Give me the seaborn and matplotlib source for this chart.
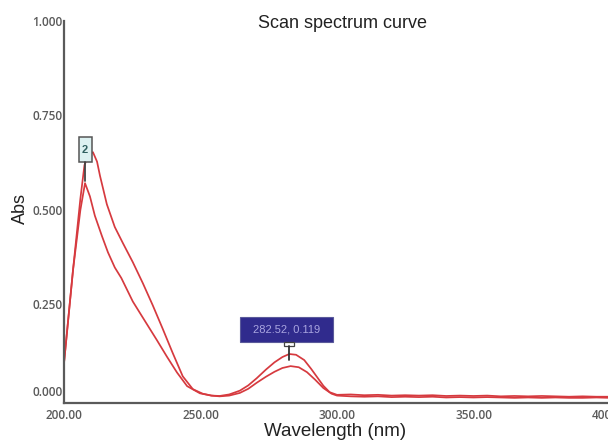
import matplotlib
matplotlib.use("Agg")
import matplotlib.pyplot as plt
from matplotlib.patches import Rectangle
import seaborn as sns
import numpy as np
import pandas as pd

# ---- data ----
wl_upper = [200.0, 203.3, 206.0, 207.5, 209.0, 210.6, 212.1, 213.2, 215.7, 218.6,
            221.6, 225.2, 228.9, 232.5, 236.2, 239.8, 243.5, 247.2, 250.8, 254.0,
            257.0, 260.5, 264.4, 267.5, 270.6, 274.0, 277.1, 280.0, 282.52, 285.0,
            288.0, 290.5, 292.5, 295.0, 297.3, 300.0, 305.0, 310.0, 315.0, 320.0,
            325.0, 330.0, 335.0, 340.0, 345.0, 350.0, 355.0, 360.0, 365.0, 370.0,
            375.0, 380.0, 385.0, 390.0, 395.0, 400.0]
abs_upper = [0.095, 0.341, 0.530, 0.619, 0.645, 0.653, 0.628, 0.590, 0.515, 0.455,
             0.412, 0.362, 0.306, 0.248, 0.185, 0.122, 0.060, 0.026, 0.014, 0.009,
             0.008, 0.012, 0.022, 0.036, 0.055, 0.078, 0.097, 0.111, 0.119, 0.117,
             0.103, 0.080, 0.060, 0.035, 0.018, 0.011, 0.012, 0.010, 0.011, 0.009,
             0.010, 0.009, 0.010, 0.008, 0.009, 0.008, 0.009, 0.007, 0.008, 0.007,
             0.008, 0.007, 0.006, 0.007, 0.006, 0.006]

wl_lower = [200.0, 203.3, 206.0, 207.7, 209.5, 211.3, 213.9, 216.1, 218.6, 221.0,
            225.2, 228.9, 234.0, 237.7, 241.4, 245.1, 249.8, 254.0, 257.0, 260.5,
            264.4, 267.5, 270.6, 274.0, 277.1, 280.0, 283.0, 286.0, 289.0, 292.0,
            295.0, 298.0, 300.0, 305.0, 310.0, 315.0, 320.0, 325.0, 330.0, 335.0,
            340.0, 345.0, 350.0, 355.0, 360.0, 365.0, 370.0, 375.0, 380.0, 385.0,
            390.0, 395.0, 400.0]
abs_lower = [0.095, 0.341, 0.500, 0.571, 0.536, 0.485, 0.431, 0.388, 0.348, 0.320,
             0.258, 0.215, 0.156, 0.112, 0.070, 0.034, 0.015, 0.009, 0.007, 0.009,
             0.016, 0.027, 0.043, 0.059, 0.072, 0.082, 0.087, 0.084, 0.071, 0.051,
             0.029, 0.014, 0.009, 0.007, 0.006, 0.007, 0.005, 0.006, 0.005, 0.006,
             0.004, 0.005, 0.004, 0.005, 0.004, 0.003, 0.004, 0.003, 0.004, 0.003,
             0.003, 0.004, 0.003]

x_ticks = [200, 250, 300, 350, 400]
y_ticks = [0.0, 0.25, 0.5, 0.75, 1.0]
title_text = "Scan spectrum curve"
x_label = "Wavelength (nm)"
y_label = "Abs"
marker_label = "2"

df = pd.concat([
    pd.DataFrame({"wl": wl_upper, "abs": abs_upper, "scan": "scan 1"}),
    pd.DataFrame({"wl": wl_lower, "abs": abs_lower, "scan": "scan 2"}),
], ignore_index=True)

sns.set_theme(style="white")
plt.rcParams["font.family"] = ["Liberation Sans", "DejaVu Sans"]

W, H = 608, 440
fig = plt.figure(figsize=(W / 100, H / 100), dpi=100)
ax = fig.add_axes([64 / W, 37 / H, 546 / W, 382 / H])

red = "#d63a3f"
sns.lineplot(data=df, x="wl", y="abs", hue="scan", palette=[red, red],
             estimator=None, sort=False, linewidth=1.25, legend=False, ax=ax)

ax.set_xlim(200, 400)
ax.set_ylim(-0.0106, 1.0)
ax.set_xticks(x_ticks)
ax.set_yticks(y_ticks)
ax.set_xticklabels([f"{v:.2f}" for v in x_ticks])
ax.set_yticklabels([f"{v:.3f}" for v in y_ticks])
ax.set_xlabel("")
ax.set_ylabel("")

for s in ["top", "right"]:
    ax.spines[s].set_visible(False)
for s in ["left", "bottom"]:
    ax.spines[s].set_color("#5a5a5a")
    ax.spines[s].set_linewidth(1.6)

ax.tick_params(axis="both", which="major", direction="in", length=5, width=1,
               color="#5a5a5a", labelcolor="#5a5a5a", labelsize=8.5)
ax.tick_params(axis="y", pad=1)
ax.tick_params(axis="x", pad=4)
for lab in ax.get_xticklabels() + ax.get_yticklabels():
    lab.set_fontfamily(["Open Sans", "DejaVu Sans"])
    lab.set_fontweight("semibold")
ax.get_yticklabels()[0].set_verticalalignment("bottom")

fig.text(343 / W, 1 - 23 / H, title_text, ha="center", va="center",
         fontsize=13, color="#222222")
fig.text(335 / W, 1 - 431 / H, x_label, ha="center", va="center",
         fontsize=13.5, color="#222222")
fig.text(20 / W, 1 - 208 / H, y_label, ha="center", va="center",
         rotation=90, fontsize=13, color="#222222")

# ---- peak markers (anchored to data peaks, offsets in pixels) ----
fig.canvas.draw()
inv = ax.transData.inverted()


def to_data(px, py):
    return inv.transform((px, py))


# lower-curve peak marker "2"
i2 = int(np.argmax(abs_lower))
p2 = ax.transData.transform((wl_lower[i2], abs_lower[i2]))
bx0, by0 = to_data(p2[0] - 6.5, p2[1] + 21)
bx1, by1 = to_data(p2[0] + 6.5, p2[1] + 46)
ax.add_patch(Rectangle((bx0, by0), bx1 - bx0, by1 - by0, facecolor="#dcf1f1",
                       edgecolor="#555555", linewidth=1.1, zorder=5))
ax.text((bx0 + bx1) / 2, (by0 + by1) / 2, marker_label, ha="center", va="center",
        fontsize=8, color="#2f5f5f", fontweight="bold", zorder=6)
lx, ly0 = to_data(p2[0], p2[1] + 21)
_, ly1 = to_data(p2[0], p2[1] + 2)
ax.plot([lx, lx], [ly0, ly1], color="#444444", linewidth=1.3, zorder=5)

# upper-curve peak marker with value box
i1 = 28
p1 = ax.transData.transform((wl_upper[i1], abs_upper[i1]))
cx0, cy0 = to_data(p1[0] - 49, p1[1] + 12)
cx1, cy1 = to_data(p1[0] + 44, p1[1] + 37)
ax.add_patch(Rectangle((cx0, cy0), cx1 - cx0, cy1 - cy0, facecolor="#302b8d",
                       edgecolor="#5a5a9a", linewidth=0.8, zorder=5))
ax.text((cx0 + cx1) / 2, (cy0 + cy1) / 2,
        f"{wl_upper[i1]:.2f}, {abs_upper[i1]:.3f}", ha="center", va="center",
        fontsize=8, color="#a9a5e0", zorder=6)
sx0, sy0 = to_data(p1[0] - 5, p1[1] + 8)
sx1, sy1 = to_data(p1[0] + 5, p1[1] + 12)
ax.add_patch(Rectangle((sx0, sy0), sx1 - sx0, sy1 - sy0, facecolor="white",
                       edgecolor="#444444", linewidth=0.9, zorder=5))
mx, my0 = to_data(p1[0], p1[1] + 8)
_, my1 = to_data(p1[0], p1[1] - 6)
ax.plot([mx, mx], [my0, my1], color="#333333", linewidth=1.3, zorder=5)

fig.savefig("out.png", dpi=100)
